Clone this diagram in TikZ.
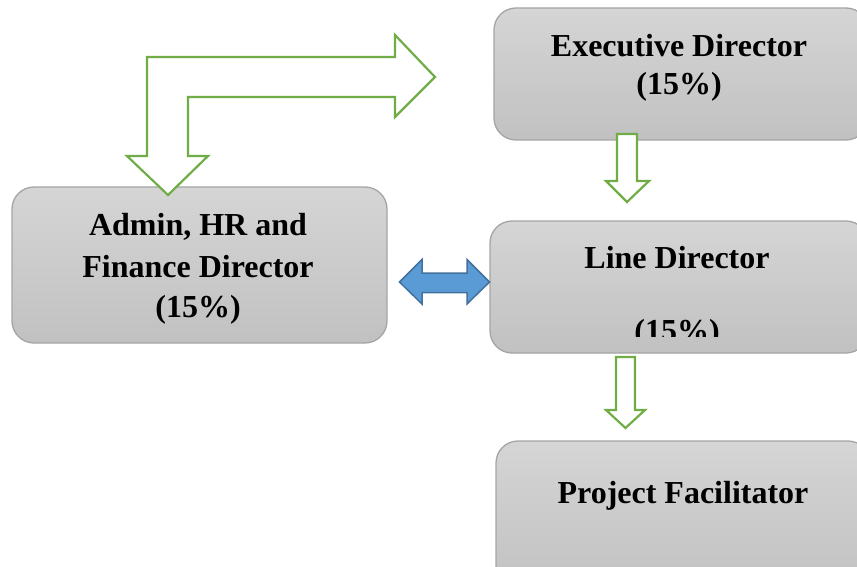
\documentclass[tikz,border=0pt]{standalone}
\usepackage{fontspec}
\setmainfont{Liberation Serif}
\definecolor{boxtop}{RGB}{213,213,213}
\definecolor{boxbot}{RGB}{193,193,193}
\definecolor{boxline}{RGB}{165,165,165}
\definecolor{grn}{RGB}{112,173,71}
\definecolor{bluefill}{RGB}{91,155,213}
\definecolor{blueline}{RGB}{65,113,156}
\tikzset{
  box/.style={draw=boxline, line width=1.3pt, rounded corners=22pt, top color=boxtop, bottom color=boxbot},
  lbl/.style={font=\fontsize{32}{38}\selectfont\bfseries, anchor=base, inner sep=0pt},
  garrow/.style={draw=grn, fill=white, line width=2.2pt, line join=miter},
  barrow/.style={draw=blueline, fill=bluefill, line width=1.5pt, line join=miter}
}
\begin{document}
\begin{tikzpicture}[x=1pt,y=-1pt]
\useasboundingbox (0,0) rectangle (857,567);
\clip (0,0) rectangle (857,567);
% boxes
\path[box] (494,8) rectangle (868,140);
\node[inner sep=0pt] (exec) at (681,74) {};
\path[box] (490,221) rectangle (868,353);
\node[inner sep=0pt] (line) at (679,287) {};
\path[box] (12,187) rectangle (387,343);
\node[inner sep=0pt] (admin) at (199.5,265) {};
\path[box] (496,441) rectangle (870,590);
\node[inner sep=0pt] (proj) at (683,515) {};
% labels
\node[lbl] (t1) at (679,57) {Executive Director};
\node[lbl] (t2) at (679,95) {(15\%)};
\node[lbl] (t3) at (677,268) {Line Director};
\begin{scope}
\clip (0,0) rectangle (857,336);
\node[lbl] (t4) at (677,341) {(15\%)};
\end{scope}
\node[lbl] (t5) at (198,235) {Admin, HR and};
\node[lbl] (t6) at (198,277) {Finance Director};
\node[lbl] (t7) at (198,317) {(15\%)};
\node[lbl] (t8) at (683,503) {Project Facilitator};
% bent arrow
\draw[garrow] (147,57) -- (395,57) -- (395,35) -- (435,77) -- (395,117) -- (395,97)
  -- (188,97) -- (188,156) -- (208,156) -- (168,195) -- (127,156) -- (147,156) -- cycle;
% down arrows
\draw[garrow] (617,134) -- (637,134) -- (637,181) -- (649,181) -- (627,202) -- (606,181) -- (617,181) -- cycle;
\draw[garrow] (616,357) -- (635,357) -- (635,410) -- (645,410) -- (625.5,428) -- (606,410) -- (616,410) -- cycle;
% double arrow
\draw[barrow] (399.5,282) -- (422,259.5) -- (422,273) -- (467,273) -- (467,259.5) -- (489.5,282)
  -- (467,304) -- (467,292.5) -- (422,292.5) -- (422,304) -- cycle;
\end{tikzpicture}
\end{document}
